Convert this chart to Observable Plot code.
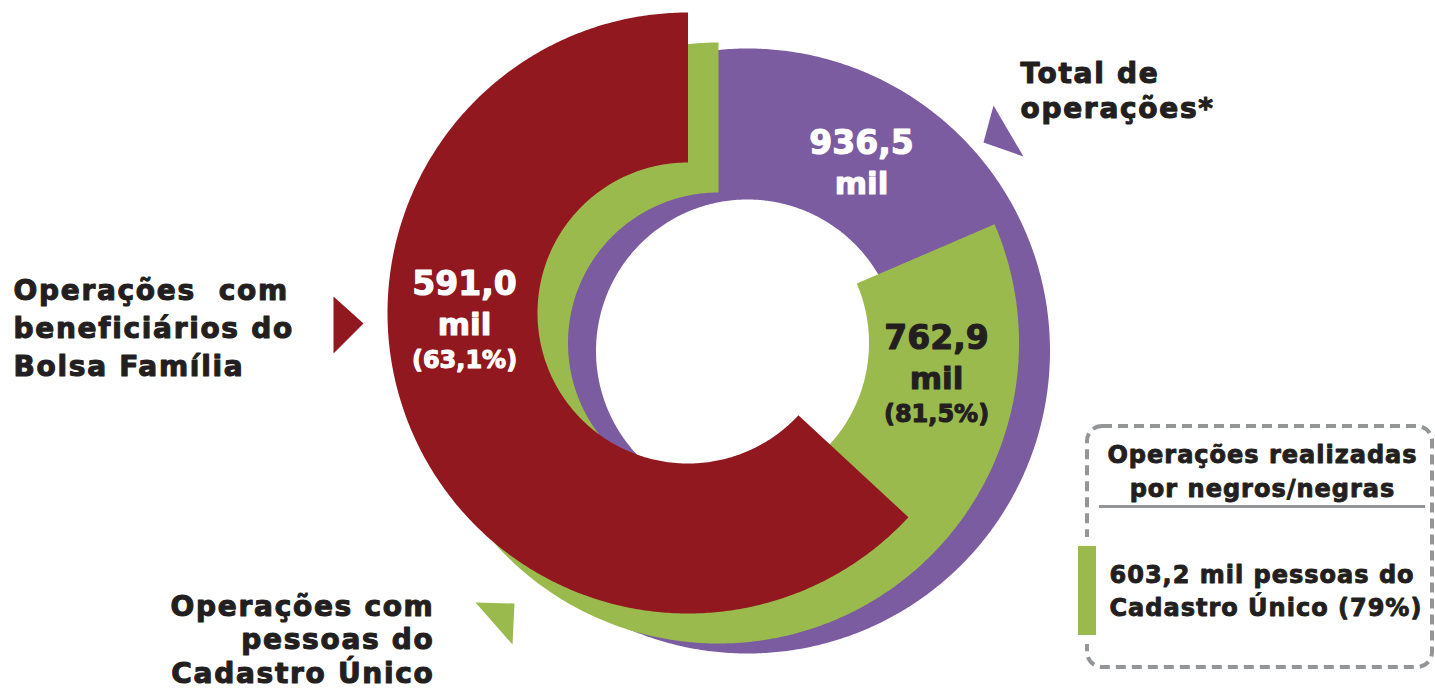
<!DOCTYPE html>
<html><head><meta charset="utf-8">
<script src="https://cdn.jsdelivr.net/npm/d3@7"></script>
<script src="https://cdn.jsdelivr.net/npm/@observablehq/plot@0.6"></script>
<style>
html,body{margin:0;padding:0;background:#fff;}
svg text{white-space:pre;}
</style></head><body><div id="chart"></div>
<script>
// ---------- DATA ----------
const categories = ["Total de operações*", "Operações com pessoas do Cadastro Único", "Operações com beneficiários do Bolsa Família"];
const valuesMil = [936.5, 762.9, 591.0];
const valueLabels = ["936,5", "762,9", "591,0"];
const unitLabels = ["mil", "mil", "mil"];
const shareLabels = ["", "(81,5%)", "(63,1%)"];
const categoryLines = [["Total de", "operações*"], ["Operações com", "pessoas do", "Cadastro Único"], ["Operações  com", "beneficiários do", "Bolsa Família"]];
const legendTitle = ["Operações realizadas", "por negros/negras"];
const legendLines = ["603,2 mil pessoas do", "Cadastro Único (79%)"];

// ---------- STYLE / LAYOUT ----------
const W = 1435, H = 689;
const seriesColors = ["#7b5ca1", "#9bba4e", "#921820"];
const valueTextColors = ["#ffffff", "#231f20", "#ffffff"];
const dark = "#231f20", gray = "#939598";
const FONT = "DejaVu Sans";
const ringLayout = [
  {cx: 747, cy: 350.5, r0: 151.5, r1: 302.5},
  {cx: 718, cy: 342.5, r0: 150.5, r1: 300.5},
  {cx: 687.5, cy: 312.5, r0: 150.5, r1: 300.5}
];
const valueLayout = [
  {x: 861, ys: [153, 193, 226]},
  {x: 936, ys: [348, 388, 421]},
  {x: 464, ys: [294, 334, 367]}
];
const categoryLayout = [
  {x: 1020, y0: 82, dy: 35, anchor: "start"},
  {x: 434, y0: 615, dy: 33.5, anchor: "end"},
  {x: 13, y0: 299, dy: 38, anchor: "start"}
];
const pointerShapes = [
  [[993, 105], [983, 142], [1023, 156]],
  [[475, 602], [514, 603], [512, 644]],
  [[333, 296], [363, 323], [333, 353]]
];

// ring geometry from values (share of total, counter-clockwise from 12 o'clock)
function ringPoints(i) {
  const {cx, cy, r0, r1} = ringLayout[i];
  const frac = valuesMil[i] / valuesMil[0];
  const span = frac * 2 * Math.PI;
  const steps = Math.max(4, Math.ceil(720 * frac));
  const pts = [];
  for (let k = 0; k <= steps; k++) {
    const a = -span * k / steps;
    pts.push({x: cx + r1 * Math.sin(a), y: cy - r1 * Math.cos(a)});
  }
  for (let k = steps; k >= 0; k--) {
    const a = -span * k / steps;
    pts.push({x: cx + r0 * Math.sin(a), y: cy - r0 * Math.cos(a)});
  }
  return pts;
}

const marks = [];
categories.forEach((c, i) => {
  marks.push(Plot.line(ringPoints(i), {x: "x", y: "y", fill: seriesColors[i], stroke: "none"}));
});
pointerShapes.forEach((s, i) => {
  marks.push(Plot.line(s.map(([x, y]) => ({x, y})), {x: "x", y: "y", fill: seriesColors[i], stroke: "none"}));
});

// value labels
categories.forEach((c, i) => {
  const L = valueLayout[i];
  const rows = [
    {t: valueLabels[i], y: L.ys[0], s: 33},
    {t: unitLabels[i], y: L.ys[1], s: 31},
    {t: shareLabels[i], y: L.ys[2], s: 24}
  ].filter(d => d.t);
  marks.push(Plot.text(rows, {x: () => L.x, y: "y", text: "t", fontSize: d => d.s, fontFamily: FONT, fontWeight: "bold",
    fill: valueTextColors[i], stroke: valueTextColors[i], strokeWidth: 1.1, textAnchor: "middle", lineAnchor: "bottom"}));
});

// category labels
categories.forEach((c, i) => {
  const L = categoryLayout[i];
  const rows = categoryLines[i].map((t, k) => ({t, y: L.y0 + k * L.dy}));
  marks.push(Plot.text(rows, {x: () => L.x, y: "y", text: "t", fontSize: 28, fontFamily: FONT, fontWeight: "bold",
    fill: dark, stroke: dark, strokeWidth: 1.1, textAnchor: L.anchor, lineAnchor: "bottom"}));
});

// legend box
marks.push(Plot.rect([{}], {x1: 1087, x2: 1432, y1: 426, y2: 667, rx: 15, fill: "none", stroke: gray, strokeWidth: 4, strokeDasharray: "10,6"}));
marks.push(Plot.rect([{}], {x1: 1080, x2: 1095, y1: 537, y2: 644, fill: "#ffffff"}));
marks.push(Plot.rect([{}], {x1: 1078, x2: 1096, y1: 546, y2: 635, fill: seriesColors[1]}));
marks.push(Plot.ruleY([506], {x1: 1099, x2: 1425, stroke: gray, strokeWidth: 3}));
marks.push(Plot.text(legendTitle.map((t, k) => ({t, y: 462 + k * 34})), {x: () => 1262, y: "y", text: "t", fontSize: 24, fontFamily: FONT, fontWeight: "bold",
  fill: dark, stroke: dark, strokeWidth: 0.9, textAnchor: "middle", lineAnchor: "bottom"}));
marks.push(Plot.text(legendLines.map((t, k) => ({t, y: 582 + k * 33})), {x: () => 1109, y: "y", text: "t", fontSize: 24, fontFamily: FONT, fontWeight: "bold",
  fill: dark, stroke: dark, strokeWidth: 0.9, textAnchor: "start", lineAnchor: "bottom"}));

const svg = Plot.plot({
  width: W, height: H, margin: 0,
  x: {domain: [0, W], range: [0, W], axis: null},
  y: {domain: [0, H], range: [0, H], axis: null},
  style: {background: "#fff", overflow: "visible"},
  marks
});
// letter spacing for the heavy display face look
const largeSet = new Set(categoryLines.flat());
const smallSet = new Set([...legendTitle, ...legendLines]);
d3.select(svg).selectAll("text").each(function () {
  const t = this.textContent;
  if (largeSet.has(t)) this.setAttribute("letter-spacing", "1.7");
  else if (smallSet.has(t)) this.setAttribute("letter-spacing", "1");
});
d3.select(svg).selectAll("text").each(function () {
  if (largeSet.has(this.textContent) && getComputedStyle(this).textAnchor === "end") this.setAttribute("dx", "1.7");
});
document.getElementById("chart").appendChild(svg);
</script></body></html>
